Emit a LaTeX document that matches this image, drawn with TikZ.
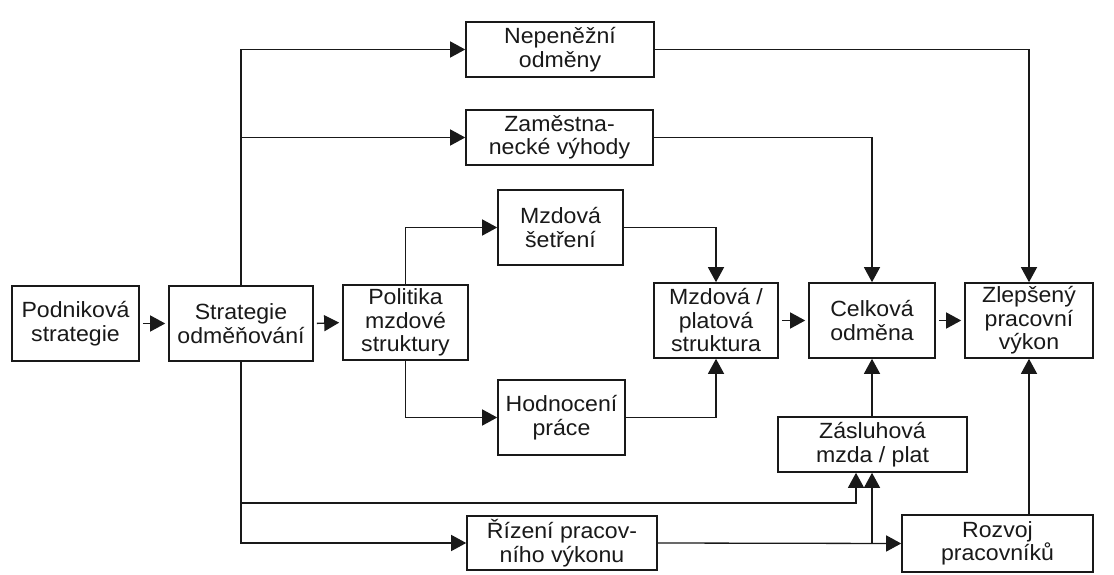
\documentclass[tikz,border=0pt]{standalone}
\usepackage{fontspec}
\setmainfont{Liberation Sans}[FakeStretch=1.05]
\usetikzlibrary{arrows.meta,calc}
\tikzset{
  box/.style={draw=black!90, line width=1.6pt, inner sep=0pt, align=center,
    font=\fontsize{22}{23.5}\selectfont, text=black!90},
  conn/.style={draw=black!90, line width=1.3pt},
  arr/.style={conn, -{Triangle[length=15pt,width=16pt]}},
}
\begin{document}
\begin{tikzpicture}[x=1pt,y=-1pt]
\fill[white] (0,0) rectangle (1114,575);
\useasboundingbox (0,0) rectangle (1114,575);

\node[box, minimum width=127pt, minimum height=75pt] (pod) at (75.5,323.5) {Podniková\\strategie};
\node[box, minimum width=144pt, minimum height=75pt] (str) at (241,323.5) {Strategie\\odměňování};
\node[box, minimum width=125pt, minimum height=75pt] (pol) at (405.5,322.5) {Politika\\mzdové\\struktury};
\node[box, minimum width=188pt, minimum height=55pt] (nep) at (560,49.5) {Nepeněžní\\odměny};
\node[box, minimum width=187pt, minimum height=55pt] (zam) at (559.5,137.5) {Zaměstna-\\necké výhody};
\node[box, minimum width=125pt, minimum height=75pt] (mzs) at (560.5,227.5) {Mzdová\\šetření};
\node[box, minimum width=127pt, minimum height=75pt] (hod) at (561.5,417.5) {Hodnocení\\práce};
\node[box, minimum width=124pt, minimum height=75pt] (mps) at (716,320.5) {Mzdová /\\platová\\struktura};
\node[box, minimum width=126pt, minimum height=75pt] (cel) at (872,320.5) {Celková\\odměna};
\node[box, minimum width=128pt, minimum height=75pt] (zle) at (1029,320.5) {Zlepšený\\pracovní\\výkon};
\node[box, minimum width=189pt, minimum height=55pt] (zas) at (872.5,444.5) {Zásluhová\\mzda / plat};
\node[box, minimum width=190pt, minimum height=54pt] (riz) at (562,543) {Řízení pracov-\\ního výkonu};
\node[box, minimum width=191pt, minimum height=57pt] (roz) at (997.5,543.5) {Rozvoj\\pracovníků};

\coordinate (j1) at (856,503);
\coordinate (j2) at (cel.south |- riz.east);

\draw[arr, shorten <=3pt, shorten >=3pt] (pod.east) -- (str.west);
\draw[arr, shorten <=3pt, shorten >=3pt] (str.east) -- (pol.west);
\draw[arr] (str.north) |- (nep.west);
\draw[arr] (str.north) |- (zam.west);
\draw[arr] (str.south) |- (riz.west);
\draw[arr] (str.south) |- (j1) -- (j1 |- zas.south);
\draw[arr] (pol.north) |- (mzs.west);
\draw[arr] (pol.south) |- (hod.west);
\draw[arr] (mzs.east) -| (mps.north);
\draw[arr] (hod.east) -| (mps.south);
\draw[arr, shorten <=3pt, shorten >=3pt] (mps.east) -- (cel.west);
\draw[arr, shorten <=3pt, shorten >=3pt] (cel.east) -- (zle.west);
\draw[arr] (zam.east) -| (cel.north);
\draw[arr] (nep.east) -| (zle.north);
\draw[arr] (cel.south |- zas.north) -- (cel.south);
\draw[arr] (riz.east) -- (roz.west);
\draw[arr] (j2) -- (j2 |- zas.south);
\draw[arr] (zle.south |- roz.north) -- (zle.south);
\end{tikzpicture}
\end{document}
